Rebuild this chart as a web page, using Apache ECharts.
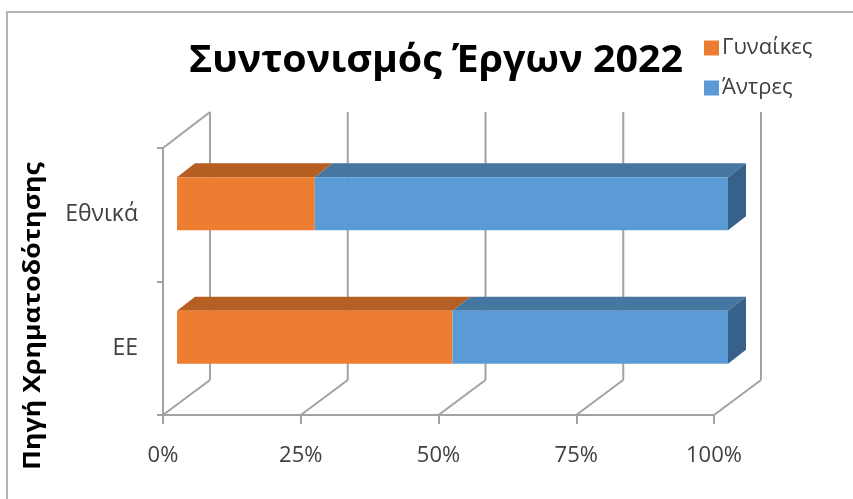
<!DOCTYPE html>
<html>
<head>
<meta charset="utf-8">
<script src="https://cdn.jsdelivr.net/npm/echarts@6/dist/echarts.min.js"></script>
<style>
html,body{margin:0;padding:0;background:#fff;}
#chart{width:853px;height:499px;}
</style>
</head>
<body>
<div id="chart"></div>
<script>
// ---- data ----
const categories = ['EE', 'Εθνικά'];
const seriesNames = ['Γυναίκες', 'Άντρες'];
const women = [50, 25];
const men = [50, 75];
const xTicks = [0, 25, 50, 75, 100];
const titleText = 'Συντονισμός Έργων 2022';
const yAxisName = 'Πηγή Χρηματοδότησης';

// ---- styling ----
const FONT = '"Open Sans", sans-serif';
const AXIS_C = '#a2a2a2';
const TEXT_C = '#404040';
const WALL_DX = 47, WALL_DY = -35;          // depth of the chart floor/wall
const BAR_DX0 = 14, BAR_DY0 = -11;          // bar front offset inside the depth
const BAR_DX1 = 18, BAR_DY1 = -14;          // bar depth
const BAR_H = 53;

const palette = {
  'Γυναίκες': { front: '#ED7D31', top: '#B65F22', side: '#9E521D' },
  'Άντρες':   { front: '#5B9BD5', top: '#4577A1', side: '#386189' }
};

const chart = echarts.init(document.getElementById('chart'), null, { renderer: 'canvas' });

// stacked segments built from the value arrays
const stackData = [women, men];
function segments(sIdx) {
  return categories.map((c, i) => {
    let start = 0;
    for (let k = 0; k < sIdx; k++) start += stackData[k][i];
    return [i, start, start + stackData[sIdx][i]];
  });
}

function wallRender(params, api) {
  const v = api.value(0);
  const cs = params.coordSys;
  const bottom = cs.y + cs.height;
  const top = cs.y;
  const x = api.coord([v, 0])[0];
  const ls = { stroke: AXIS_C, lineWidth: 2 };
  const children = [
    { type: 'line', shape: { x1: x, y1: bottom, x2: x + WALL_DX, y2: bottom + WALL_DY }, style: ls },
    { type: 'line', shape: { x1: x + WALL_DX, y1: bottom + WALL_DY, x2: x + WALL_DX, y2: top + WALL_DY - 1 }, style: ls }
  ];
  if (params.dataIndex === 0) {
    children.push({ type: 'line', shape: { x1: x, y1: top, x2: x + WALL_DX, y2: top + WALL_DY - 1 }, style: ls });
  }
  return { type: 'group', children };
}

function barRender(name, isLast) {
  return function (params, api) {
    const ci = api.value(0);
    const p0 = api.coord([api.value(1), ci]);
    const p1 = api.coord([api.value(2), ci]);
    const x0 = p0[0] + BAR_DX0, x1 = p1[0] + BAR_DX0;
    const yc = p0[1] + BAR_DY0;
    const yt = yc - BAR_H / 2, yb = yc + BAR_H / 2;
    const col = palette[name];
    const children = [
      { type: 'polygon', shape: { points: [[x0, yt], [x1, yt], [x1 + BAR_DX1, yt + BAR_DY1], [x0 + BAR_DX1, yt + BAR_DY1]] },
        style: { fill: col.top } },
      { type: 'rect', shape: { x: x0, y: yt, width: x1 - x0, height: yb - yt },
        style: { fill: col.front } }
    ];
    if (isLast) {
      children.push({ type: 'polygon', shape: { points: [[x1, yt], [x1 + BAR_DX1, yt + BAR_DY1], [x1 + BAR_DX1, yb + BAR_DY1], [x1, yb]] },
        style: { fill: col.side } });
    }
    return { type: 'group', children };
  };
}

const option = {
  animation: false,
  backgroundColor: '#ffffff',
  grid: { left: 163, right: 139, top: 148, bottom: 84, containLabel: false },
  xAxis: {
    type: 'value', min: 0, max: 100, interval: 25,
    axisLine: { show: true, lineStyle: { color: AXIS_C, width: 2 } },
    axisTick: { show: true, length: 9, lineStyle: { color: AXIS_C, width: 2 } },
    splitLine: { show: false },
    axisLabel: { formatter: '{value}%', color: TEXT_C, fontFamily: FONT, fontSize: 22, margin: 30 }
  },
  yAxis: {
    type: 'category', data: categories,
    axisLine: { show: true, lineStyle: { color: AXIS_C, width: 2 } },
    axisTick: { show: true, length: 6, lineStyle: { color: AXIS_C, width: 2 } },
    splitLine: { show: false },
    axisLabel: { color: TEXT_C, fontFamily: FONT, fontSize: 23, margin: 25 }
  },
  legend: {
    orient: 'vertical', left: 699, top: 32,
    itemWidth: 15, itemHeight: 15, itemGap: 18,
    icon: 'rect',
    data: seriesNames,
    textStyle: { color: TEXT_C, fontFamily: FONT, fontSize: 22, padding: [0, 0, 0, -2] }
  },
  graphic: [
    { type: 'rect', shape: { x: 7, y: 12, width: 900, height: 600 }, style: { fill: 'none', stroke: '#b4b4b4', lineWidth: 2 }, z: -10 },
    { type: 'text', x: 436, y: 61, scaleX: 1.064, style: { text: titleText, font: 'bold 37px "Open Sans", sans-serif', fill: '#000', align: 'center', verticalAlign: 'middle' } },
    { type: 'text', x: 33, y: 316, rotation: Math.PI / 2, scaleX: 1.16, style: { text: yAxisName, font: 'bold 23px "Open Sans", sans-serif', fill: '#000', align: 'center', verticalAlign: 'middle' } }
  ],
  series: [
    { type: 'custom', name: '_walls', silent: true, z: 1, renderItem: wallRender,
      data: xTicks.map(v => [v]), encode: { x: 0 } },
    { type: 'custom', name: seriesNames[0], z: 3, renderItem: barRender(seriesNames[0], false),
      itemStyle: { color: palette[seriesNames[0]].front },
      data: segments(0), encode: { x: [1, 2], y: 0 } },
    { type: 'custom', name: seriesNames[1], z: 3, renderItem: barRender(seriesNames[1], true),
      itemStyle: { color: palette[seriesNames[1]].front },
      data: segments(1), encode: { x: [1, 2], y: 0 } }
  ]
};
chart.setOption(option);
</script>
</body>
</html>
